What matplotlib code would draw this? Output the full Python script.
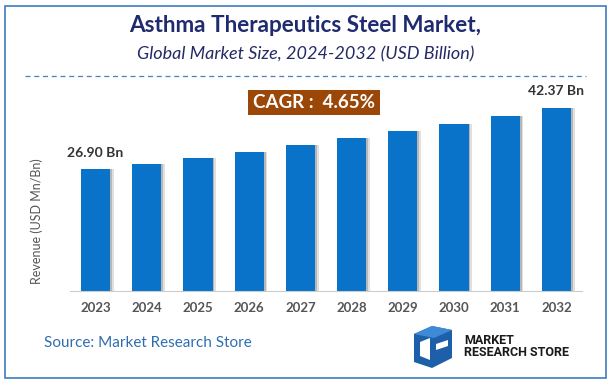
import matplotlib.pyplot as plt
from matplotlib.patches import Rectangle, Polygon
from matplotlib.lines import Line2D

plt.rcParams['font.family'] = ['Lato', 'DejaVu Sans']

years = ['2023', '2024', '2025', '2026', '2027', '2028', '2029', '2030', '2031', '2032']
revenue = [26.90, 28.16, 29.68, 31.27, 32.96, 34.80, 36.56, 38.33, 40.35, 42.37]
first_label = '26.90 Bn'
last_label = '42.37 Bn'
cagr_text = 'CAGR :  4.65%'

fig = plt.figure(figsize=(6.11, 3.84), dpi=100)

# outer frame
fig.patches.append(Rectangle((5/611, 6/384), 601/611, 372/384, transform=fig.transFigure,
                             fill=False, edgecolor='#3d7cc0', linewidth=1.2))

# titles
fig.text(0.5, 1 - 26/384, 'Asthma Therapeutics Steel Market,', ha='center', va='center',
         fontsize=16.2, fontweight='bold', color='#1f2b6e')
fig.text(0.5, 1 - 54/384, 'Global Market Size, 2024-2032 (USD Billion)', ha='center', va='center',
         fontsize=13, style='italic', color='#252a66')
fig.lines.append(Line2D([25/611, 586/611], [1 - 76/384] * 2, transform=fig.transFigure,
                        color='#4a7fc0', linewidth=0.9, linestyle=(0, (4, 3))))

# bar chart
base = -3.8
ax = fig.add_axes([70/611, 93/384, 512/611, 191/384])
x = list(range(len(years)))
heights = [v - base for v in revenue]
ax.bar([i + 0.07 for i in x], heights, bottom=base, width=0.57, color='#9a9a9a', alpha=0.3, zorder=1)
ax.bar([i + 0.035 for i in x], heights, bottom=base, width=0.57, color='#7a7a7a', alpha=0.4, zorder=1)
ax.bar(x, heights, bottom=base, width=0.57, color='#0873c9', zorder=2)
ax.set_xlim(-0.5, 9.5)
ax.set_ylim(base, 44.4)
for s in ['top', 'right', 'left']:
    ax.spines[s].set_visible(False)
ax.spines['bottom'].set_color('#cccccc')
ax.set_yticks([])
ax.set_xticks(x)
ax.set_xticklabels(years, fontsize=9.5, fontweight='bold', color='#555555')
ax.tick_params(axis='x', length=0, pad=8)
fig.text(37/611, 1 - 221/384, 'Revenue (USD Mn/Bn)', rotation=90, ha='center', va='center',
         fontsize=9, color='#555555')

ax.annotate(first_label, (0, revenue[0]), xytext=(0, 12), textcoords='offset points',
            ha='center', va='center', fontsize=10, fontweight='bold', color='#333333')
ax.annotate(last_label, (9, revenue[-1]), xytext=(0, 12), textcoords='offset points',
            ha='center', va='center', fontsize=10, fontweight='bold', color='#333333')

# CAGR box
fig.patches.append(Rectangle((248/611, 1 - 115/384), 132/611, 25/384, transform=fig.transFigure,
                             facecolor='#9a4708', edgecolor='none'))
fig.text(314/611, 1 - 102.5/384, cagr_text, ha='center', va='center',
         fontsize=13.5, fontweight='bold', color='white')

# source
fig.text(44/611, 1 - 343/384, 'Source: Market Research Store', ha='left', va='center',
         fontsize=11, color='#2f6db1')

# logo
def px(pts):
    return [(a/611, 1 - b/384) for a, b in pts]

fig.patches.append(Polygon(px([(414, 334), (432, 326), (452, 330), (452, 358), (432, 368), (414, 362)]),
                           closed=True, transform=fig.transFigure, facecolor='#1d5fa8', edgecolor='none'))
fig.patches.append(Polygon(px([(414, 334), (432, 326), (452, 330), (434, 338)]),
                           closed=True, transform=fig.transFigure, facecolor='#3f8ad6', edgecolor='none'))
fig.patches.append(Polygon(px([(420, 342), (430, 338), (430, 360), (420, 356)]),
                           closed=True, transform=fig.transFigure, facecolor='white', edgecolor='none'))
fig.patches.append(Polygon(px([(436, 344), (448, 340), (448, 346), (436, 350)]),
                           closed=True, transform=fig.transFigure, facecolor='white', edgecolor='none'))
fig.text(464/611, 1 - 340/384, 'MARKET', ha='left', va='center', fontsize=9,
         fontweight='bold', color='#1a1a1a', family=['Roboto', 'DejaVu Sans'], stretch='condensed')
fig.text(464/611, 1 - 352/384, 'RESEARCH STORE', ha='left', va='center', fontsize=9,
         fontweight='bold', color='#1a1a1a', family=['Roboto', 'DejaVu Sans'], stretch='condensed')

plt.savefig('out.png', dpi=100)
